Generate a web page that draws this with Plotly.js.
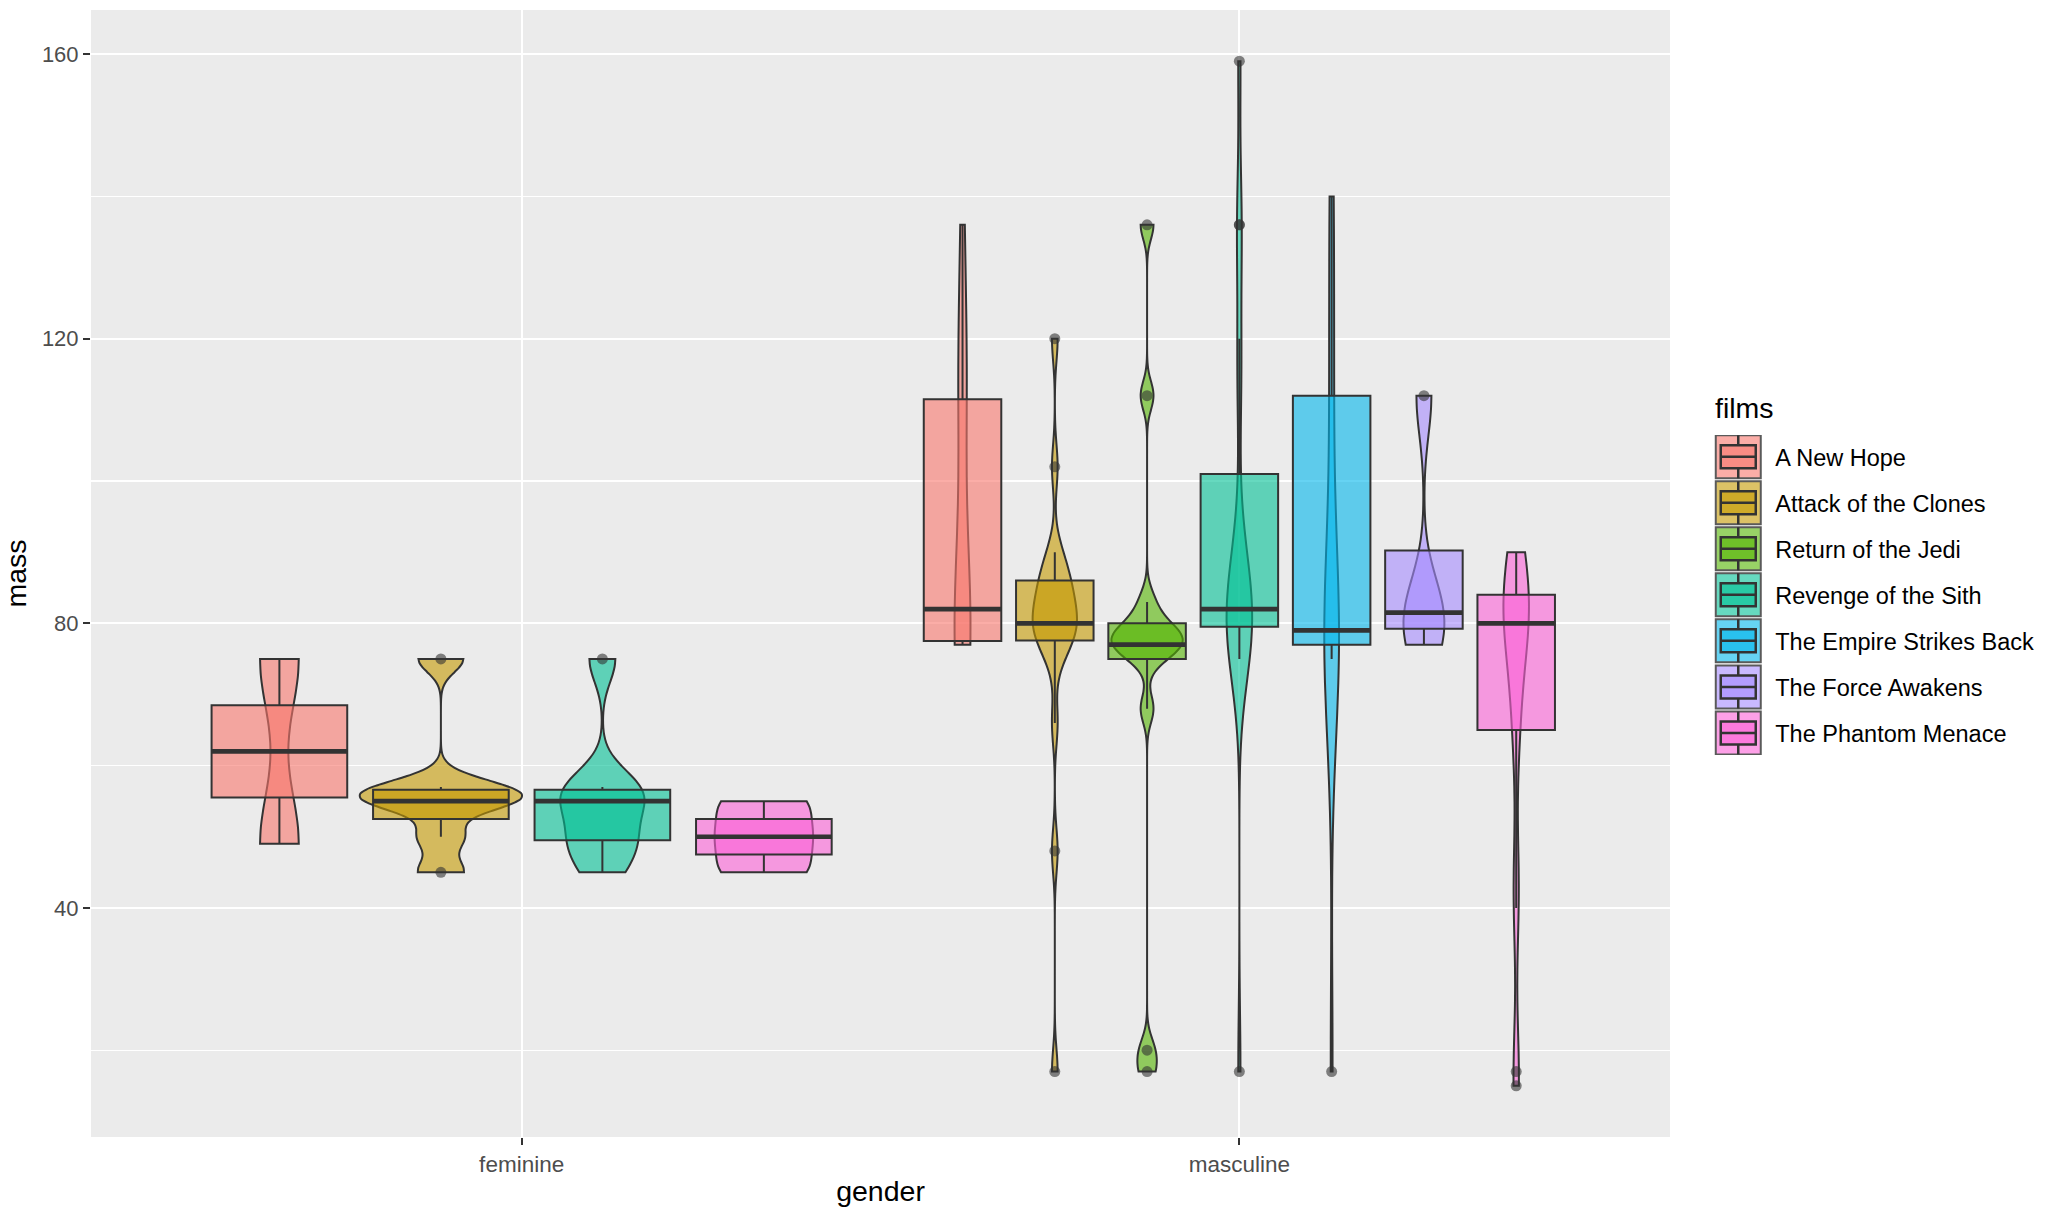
<!DOCTYPE html>
<html>
<head>
<meta charset="utf-8">
<script src="https://cdn.plot.ly/plotly-3.0.1.min.js"></script>
<style>html,body{margin:0;padding:0;background:#ffffff;}</style>
</head>
<body>
<div id="chart" style="width:2050px;height:1222px;"></div>
<script>
// ---- categories ----
const genders = ['feminine', 'masculine'];
const films = ['A New Hope', 'Attack of the Clones', 'Return of the Jedi', 'Revenge of the Sith',
               'The Empire Strikes Back', 'The Force Awakens', 'The Phantom Menace'];
const filmColors = ['#F8766D', '#C49A00', '#53B400', '#00C094', '#00B6EB', '#A58AFF', '#FB61D7'];

// ---- mass values (kg) per gender / film ----
const feminineANewHope        = [49, 75];
const feminineAttackOfClones  = [75, 45, 55, 56.2, 50, 55, 57];
const feminineRevengeOfSith   = [49, 75, 45, 55, 50, 56.2, 57];
const femininePhantomMenace   = [45, 55, 50];

const masculineANewHope       = [77, 136, 120, 84, 77, 112, 80, 77, 110, 79];
const masculineAttackOfClones = [120, 77, 84, 17, 75, 78.2, 90, 66, 84, 82, 87, 80, 85, 80, 80, 79, 102, 88, 48];
const masculineReturnOfJedi   = [77, 136, 77, 112, 80, 77, 17, 75, 78.2, 79, 83, 20, 68];
const masculineRevengeOfSith  = [77, 136, 120, 77, 84, 112, 17, 75, 90, 84, 82, 87, 80, 80, 80, 159, 136, 79, 80];
const masculineEmpireStrikes  = [77, 136, 77, 112, 80, 77, 17, 75, 78.2, 140, 113, 79, 79];
const masculineForceAwakens   = [77, 80, 112, 83];
const masculinePhantomMenace  = [77, 84, 17, 75, 89, 90, 66, 82, 40, 80, 15, 45, 65, 84, 82, 87, 80];

// groups: [gender index, film index, values]
const groups = [
  [0, 0, feminineANewHope], [0, 1, feminineAttackOfClones], [0, 3, feminineRevengeOfSith], [0, 6, femininePhantomMenace],
  [1, 0, masculineANewHope], [1, 1, masculineAttackOfClones], [1, 2, masculineReturnOfJedi], [1, 3, masculineRevengeOfSith],
  [1, 4, masculineEmpireStrikes], [1, 5, masculineForceAwakens], [1, 6, masculinePhantomMenace]
];

// ---- helpers ----
function hexA(hex, a) {
  const r = parseInt(hex.slice(1, 3), 16), g = parseInt(hex.slice(3, 5), 16), b = parseInt(hex.slice(5, 7), 16);
  return 'rgba(' + r + ',' + g + ',' + b + ',' + a + ')';
}
function q7(s, p) {            // R quantile type 7 on a sorted array
  const h = (s.length - 1) * p, lo = Math.floor(h), hi = Math.ceil(h);
  return s[lo] + (h - lo) * (s[hi] - s[lo]);
}
function nrd0(v) {             // R bw.nrd0
  const n = v.length, m = v.reduce((a, b) => a + b, 0) / n;
  const sd = Math.sqrt(v.reduce((a, b) => a + (b - m) * (b - m), 0) / (n - 1));
  const s = v.slice().sort((a, b) => a - b);
  const iqr = q7(s, 0.75) - q7(s, 0.25);
  let lo = Math.min(sd, iqr / 1.34);
  if (!lo) lo = sd || Math.abs(v[0]) || 1;
  return 0.9 * lo * Math.pow(n, -0.2);
}
function boxStats(v) {         // ggplot2 stat_boxplot
  const s = v.slice().sort((a, b) => a - b);
  const q1 = q7(s, 0.25), md = q7(s, 0.5), q3 = q7(s, 0.75), iqr = q3 - q1;
  const lo = q1 - 1.5 * iqr, hi = q3 + 1.5 * iqr;
  const inside = s.filter(x => x >= lo && x <= hi);
  const out = s.filter(x => x < lo || x > hi);
  return {q1: q1, md: md, q3: q3,
          lf: Math.min(q1, Math.min.apply(null, inside)),
          uf: Math.max(q3, Math.max.apply(null, inside)), out: out};
}

const DARK = '#333333';
const FONT = 'Liberation Sans, Arial, Helvetica, sans-serif';
const violins = [], boxes = [], medians = [], outliers = [];

groups.forEach(function (g) {
  const gi = g[0], fi = g[1], vals = g[2];
  const gender = genders[gi];
  const st = boxStats(vals);
  const common = {
    alignmentgroup: gender, offsetgroup: gender + fi,
    legendgroup: films[fi], name: films[fi], hoverinfo: 'skip'
  };
  violins.push(Object.assign({
    type: 'violin', x: vals.map(() => gender), y: vals, showlegend: false,
    scalegroup: 'all', scalemode: 'width', spanmode: 'hard', bandwidth: nrd0(vals),
    fillcolor: hexA(filmColors[fi], 0.6), line: {color: DARK, width: 2},
    points: false, box: {visible: false}, meanline: {visible: false}
  }, common));
  boxes.push(Object.assign({
    type: 'box', x: [gender], q1: [st.q1], median: [st.md], q3: [st.q3],
    lowerfence: [st.lf], upperfence: [st.uf], showlegend: gi === 1,
    fillcolor: hexA(filmColors[fi], 0.6), line: {color: DARK, width: 2},
    whiskerwidth: 0, boxpoints: false
  }, common));
  medians.push(Object.assign({
    type: 'box', x: [gender], q1: [st.md], median: [st.md], q3: [st.md],
    lowerfence: [st.md], upperfence: [st.md],
    showlegend: false, fillcolor: 'rgba(0,0,0,0)', line: {color: DARK, width: 4.7},
    whiskerwidth: 0, boxpoints: false
  }, common));
  if (st.out.length) {
    outliers.push(Object.assign({
      type: 'box', x: st.out.map(() => gender), y: st.out, showlegend: false,
      fillcolor: 'rgba(0,0,0,0)', line: {color: 'rgba(0,0,0,0)', width: 0},
      whiskerwidth: 0, boxpoints: 'all', jitter: 0, pointpos: 0,
      marker: {color: 'rgba(51,51,51,0.6)', size: 11, line: {width: 0}}
    }, common));
  }
});

const data = violins.concat(boxes, medians, outliers);

const layout = {
  width: 2050, height: 1222,
  paper_bgcolor: '#ffffff', plot_bgcolor: '#EBEBEB',
  margin: {l: 91, r: 380, t: 10, b: 85},
  font: {family: FONT, color: '#000000'},
  boxmode: 'group', boxgap: 0.1, boxgroupgap: 0.16,
  violinmode: 'group', violingap: 0.1, violingroupgap: 0,
  showlegend: true,
  xaxis: {
    type: 'category', categoryorder: 'array', categoryarray: genders, range: [-0.6, 1.6],
    showgrid: true, gridcolor: '#ffffff', gridwidth: 2.2, zeroline: false, showline: false,
    ticks: 'outside', ticklen: 7, tickwidth: 2, tickcolor: DARK,
    tickfont: {size: 22.5, color: '#4D4D4D', family: FONT},
    title: {text: 'gender', font: {size: 28.5, color: '#000000', family: FONT}, standoff: 5}
  },
  yaxis: {
    range: [7.8, 166.2], tick0: 0, dtick: 40,
    showgrid: true, gridcolor: '#ffffff', gridwidth: 2.2, zeroline: false, showline: false,
    ticks: 'outside', ticklen: 7, tickwidth: 2, tickcolor: DARK,
    tickfont: {size: 22, color: '#4D4D4D', family: FONT},
    minor: {tick0: 0, dtick: 20, showgrid: true, gridcolor: '#ffffff', gridwidth: 1.1, ticks: ''},
    title: {text: 'mass', font: {size: 28.5, color: '#000000', family: FONT}, standoff: 8}
  },
  legend: {
    x: 1.0198, xanchor: 'left', y: 0.623, yanchor: 'top',
    bgcolor: 'rgba(0,0,0,0)', borderwidth: 0,
    font: {size: 23.5, color: '#000000', family: FONT},
    tracegroupgap: 12.5, itemwidth: 64, traceorder: 'grouped'
  },
  annotations: [{
    text: 'films', xref: 'paper', yref: 'paper', x: 1.0272, y: 0.6469,
    xanchor: 'left', yanchor: 'middle', showarrow: false,
    font: {size: 28.5, color: '#000000', family: FONT}
  }]
};

Plotly.newPlot('chart', data, layout, {staticPlot: true, displayModeBar: false}).then(function (gd) {
  // draw ggplot-style legend keys (violin key with box glyph on top)
  gd.querySelectorAll('.legend g.traces').forEach(function (item) {
    const p = item.querySelector('path.legendbox');
    if (!p) return;
    p.setAttribute('d', 'M-22.5,-21.5H22.5V21.5H-22.5Z');
    p.style.stroke = '#5A5A5A';
    p.style.strokeWidth = '2px';
    const inner = p.cloneNode(true);
    inner.setAttribute('d', 'M-17.5,-11.5H17.5V11.5H-17.5Z');
    inner.style.stroke = DARK;
    inner.style.strokeWidth = '2.5px';
    p.parentNode.appendChild(inner);
    const lines = p.cloneNode(true);
    lines.setAttribute('d', 'M-17.5,0H17.5M0,-11.5V-21.5M0,11.5V21.5');
    lines.style.fill = 'none';
    lines.style.stroke = DARK;
    lines.style.strokeWidth = '2.5px';
    p.parentNode.appendChild(lines);
  });
});
</script>
</body>
</html>
